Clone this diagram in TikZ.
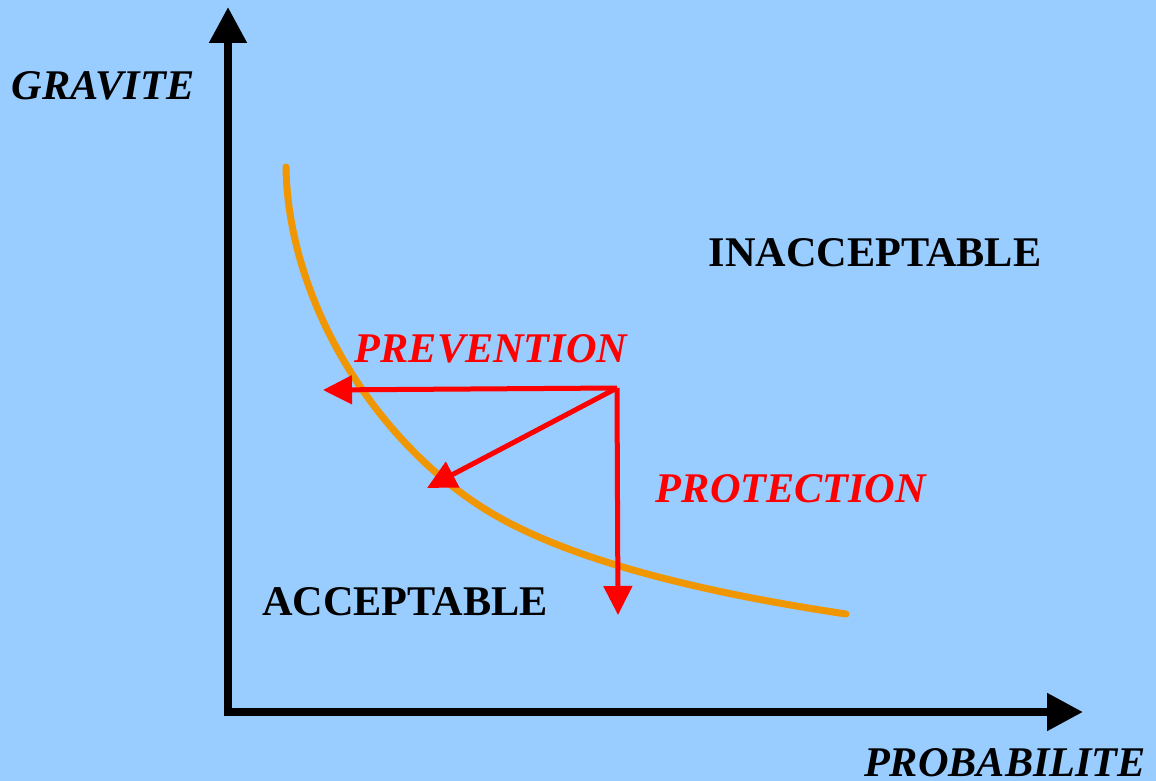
\documentclass[tikz,border=0pt]{standalone}
\usepackage{fontspec}
\setmainfont{Liberation Serif}
\usetikzlibrary{arrows.meta}
\definecolor{bg}{RGB}{153,204,255}
\definecolor{curveor}{RGB}{240,150,0}
\definecolor{arrred}{RGB}{255,0,0}
\tikzset{
  redarrow/.style={line width=3.75pt, draw=arrred, -{Triangle[length=21.75pt,width=21pt]}},
  lbl/.style={inner sep=0pt, anchor=base, font=\fontsize{31.7}{38}\selectfont\bfseries},
  axlbl/.style={lbl, font=\fontsize{31.7}{38}\selectfont\bfseries\itshape},
  redlbl/.style={axlbl, text=arrred}
}
\begin{document}
\begin{tikzpicture}[x=0.75pt,y=-0.75pt]
\path[fill=bg,use as bounding box] (0,0) rectangle (1156,781);
% axes
\coordinate (ytip) at (228,7);
\coordinate (corner) at (228,712);
\coordinate (xtip) at (1083,712);
\draw[line width=6pt, miter limit=10, {Triangle[length=27pt,width=27pt]}-{Triangle[length=27pt,width=27pt]}] (ytip) -- (corner) -- (xtip);
% curve
\coordinate (cs) at (286,167);
\coordinate (cm) at (480,506);
\coordinate (ce) at (846,614);
\draw[draw=curveor, line width=5.25pt, line cap=round] (cs) .. controls (288,297) and (370,434.5) .. (cm) .. controls (560,558) and (696,591.5) .. (ce);
% red arrows
\coordinate (o) at (617,388);
\coordinate (pl) at (323,390);
\coordinate (pd) at (427,488);
\coordinate (pv) at (618,615);
\draw[redarrow] (o) -- (pl);
\draw[redarrow] (o) -- (pd);
\draw[redarrow] (o) -- (pv);
% labels
\node[axlbl] (grav) at (103,100) {GRAVITE};
\node[axlbl] (prob) at (1005,776) {PROBABILITE};
\node[lbl] (inacc) at (875,266) {INACCEPTABLE};
\node[lbl] (acc) at (405,615) {ACCEPTABLE};
\node[redlbl] (prev) at (491,362) {PREVENTION};
\node[redlbl] (prot) at (791,502) {PROTECTION};
\end{tikzpicture}
\end{document}
